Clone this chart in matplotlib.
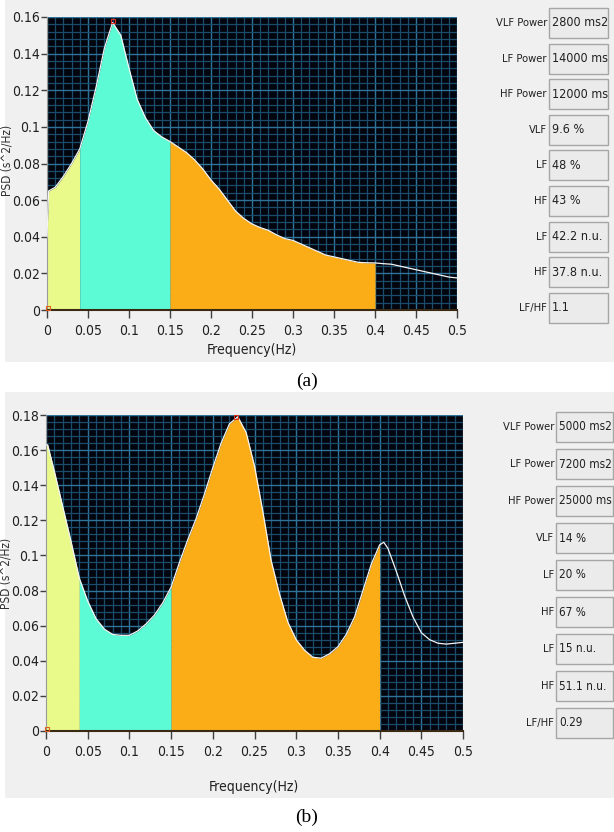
import numpy as np
import matplotlib.pyplot as plt
from matplotlib.patches import Rectangle
from matplotlib import font_manager

W, H = 614, 832

# PSD curve, panel (a)
freq_a = [0, 0.002, 0.01, 0.02, 0.03, 0.04, 0.05, 0.06, 0.07, 0.08, 0.09, 0.10,
          0.11, 0.12, 0.13, 0.14, 0.15, 0.16, 0.17, 0.18, 0.19, 0.20, 0.21, 0.22,
          0.23, 0.24, 0.25, 0.26, 0.27, 0.28, 0.29, 0.30, 0.31, 0.32, 0.33, 0.34,
          0.35, 0.36, 0.37, 0.38, 0.39, 0.40, 0.41, 0.42, 0.43, 0.44, 0.45, 0.46,
          0.47, 0.48, 0.49, 0.50]
psd_a = [0.040, 0.065, 0.067, 0.073, 0.080, 0.088, 0.103, 0.122, 0.143, 0.157, 0.150, 0.132,
         0.115, 0.105, 0.098, 0.0945, 0.092, 0.089, 0.086, 0.082, 0.077, 0.071, 0.066, 0.060,
         0.054, 0.050, 0.047, 0.045, 0.0435, 0.041, 0.039, 0.038, 0.036, 0.034, 0.032, 0.030,
         0.029, 0.028, 0.027, 0.026, 0.0258, 0.0257, 0.0253, 0.025, 0.024, 0.023, 0.022, 0.021,
         0.020, 0.019, 0.018, 0.0175]

# PSD curve, panel (b)
freq_b = [0, 0.002, 0.01, 0.02, 0.03, 0.04, 0.05, 0.06, 0.07, 0.08, 0.09, 0.10,
          0.11, 0.12, 0.13, 0.14, 0.15, 0.16, 0.17, 0.18, 0.19, 0.20, 0.21, 0.22,
          0.23, 0.24, 0.25, 0.26, 0.27, 0.28, 0.29, 0.30, 0.31, 0.32, 0.33, 0.34,
          0.35, 0.36, 0.37, 0.38, 0.39, 0.40, 0.405, 0.41, 0.42, 0.43, 0.44, 0.45,
          0.46, 0.47, 0.48, 0.49, 0.50]
psd_b = [0.163, 0.163, 0.148, 0.128, 0.108, 0.087, 0.074, 0.064, 0.058, 0.055, 0.0545, 0.0545,
         0.057, 0.061, 0.066, 0.073, 0.082, 0.096, 0.109, 0.121, 0.135, 0.150, 0.164, 0.175,
         0.179, 0.170, 0.151, 0.125, 0.097, 0.078, 0.062, 0.052, 0.046, 0.042, 0.0415, 0.044,
         0.048, 0.055, 0.065, 0.080, 0.095, 0.106, 0.1075, 0.104, 0.091, 0.077, 0.065, 0.056,
         0.052, 0.050, 0.0495, 0.050, 0.0505]

band_edges = [0, 0.04, 0.15, 0.4]
band_colors = ['#e9fa8a', '#5cfbd6', '#fbad17']

xticks = [0, 0.05, 0.1, 0.15, 0.2, 0.25, 0.3, 0.35, 0.4, 0.45, 0.5]
xtick_labels = ['0', '0.05', '0.1', '0.15', '0.2', '0.25', '0.3', '0.35', '0.4', '0.45', '0.5']
yticks_a = [0, 0.02, 0.04, 0.06, 0.08, 0.1, 0.12, 0.14, 0.16]
ytick_labels_a = ['0', '0.02', '0.04', '0.06', '0.08', '0.1', '0.12', '0.14', '0.16']
yticks_b = [0, 0.02, 0.04, 0.06, 0.08, 0.1, 0.12, 0.14, 0.16, 0.18]
ytick_labels_b = ['0', '0.02', '0.04', '0.06', '0.08', '0.1', '0.12', '0.14', '0.16', '0.18']

row_labels = ['VLF Power', 'LF Power', 'HF Power', 'VLF', 'LF', 'HF', 'LF', 'HF', 'LF/HF']
values_a = ['2800 ms2', '14000 ms', '12000 ms', '9.6 %', '48 %', '43 %', '42.2 n.u.', '37.8 n.u.', '1.1']
values_b = ['5000 ms2', '7200 ms2', '25000 ms', '14 %', '20 %', '67 %', '15 n.u.', '51.1 n.u.', '0.29']

# narrow upright face for the LabVIEW-like text
names = {f.name for f in font_manager.fontManager.ttflist}
condensed = [f.fname for f in font_manager.fontManager.ttflist
             if f.fname.endswith('DejaVuSansCondensed.ttf')]
if 'Liberation Sans Narrow' in names:
    NARROW = dict(family=['Liberation Sans Narrow', 'DejaVu Sans'])
elif condensed:
    NARROW = dict(fontproperties=font_manager.FontProperties(fname=condensed[0]))
else:
    NARROW = dict(family=['DejaVu Sans'])
SERIF = ['Liberation Serif', 'DejaVu Serif']


def ntext(size):
    d = dict(NARROW)
    if 'fontproperties' in d:
        fp = d['fontproperties'].copy()
        fp.set_size(size)
        d['fontproperties'] = fp
    else:
        d['fontsize'] = size
    return d


fig = plt.figure(figsize=(W / 100, H / 100), dpi=100)
fig.patch.set_facecolor('white')


def fx(px):
    return px / W


def fy(py):
    return 1 - py / H


def panel(top, bottom):
    fig.patches.append(Rectangle((fx(5), fy(bottom)), fx(W - 5), (bottom - top) / H,
                                 transform=fig.transFigure, facecolor='#f0f0f0',
                                 edgecolor='none', zorder=-10))


def draw_psd(rect, f, p, ymax, yticks, ylabels, peak):
    l, t, r, b = rect
    ax = fig.add_axes([fx(l), fy(b), (r - l) / W, (b - t) / H])
    ax.set_zorder(2)
    ax.set_facecolor('#02050d')
    f = np.array(f)
    p = np.array(p)
    for lo, hi, c in zip(band_edges[:-1], band_edges[1:], band_colors):
        m = (f >= lo) & (f <= hi)
        ax.fill_between(f[m], 0, p[m], color=c, lw=0, zorder=2)
    ax.plot(f, p, color='#f4f4f4', lw=0.9, zorder=3)
    ax.plot([peak[0]], [peak[1]], 's', ms=3, mfc='none', mec='#e03020', mew=0.8, zorder=4,
            clip_on=False)
    ax.plot([0.001], [0.001], 's', ms=3, mfc='none', mec='#e06020', mew=0.8, zorder=4,
            clip_on=False)
    ax.set_xlim(0, 0.5)
    ax.set_ylim(0, ymax)
    ax.set_xticks(xticks)
    ax.set_xticklabels(xtick_labels, color='#202020', **ntext(10))
    ax.set_yticks(yticks)
    ax.set_yticklabels(ylabels, color='#202020', **ntext(10))
    ax.set_xticks(np.arange(0, 0.5001, 0.01), minor=True)
    ax.set_yticks(np.arange(0, ymax + 1e-6, 0.004), minor=True)
    ax.grid(which='minor', color='#1b4c6c', lw=0.9)
    ax.grid(which='major', color='#2f7398', lw=1.0)
    ax.set_axisbelow(True)
    ax.tick_params(which='minor', length=0)
    ax.tick_params(axis='x', which='major', length=6, width=1, color='#404040', pad=4)
    ax.tick_params(axis='y', which='major', length=4, width=1, color='#404040', pad=1)
    for s in ['top', 'right']:
        ax.spines[s].set_visible(False)
    ax.spines['left'].set_color('#9a9a9a')
    ax.spines['bottom'].set_color('#3a2a14')
    ax.spines['bottom'].set_linewidth(1.5)
    return ax


def draw_readouts(y0, step, box_l, box_r, values, vsize):
    for i, (lab, val) in enumerate(zip(row_labels, values)):
        yc = y0 + i * step
        fig.patches.append(Rectangle((fx(box_l), fy(yc + 15)), (box_r - box_l) / W, 30 / H,
                                     transform=fig.transFigure, facecolor='#ebebeb',
                                     edgecolor='#a6a6a6', lw=1, zorder=1))
        fig.text(fx(box_l - 2), fy(yc), lab, ha='right', va='center',
                 color='#202020', **ntext(8))
        fig.text(fx(box_l + 3), fy(yc), val, ha='left', va='center',
                 color='#202020', **ntext(vsize))


# panel (a)
panel(0, 362)
draw_psd((47, 17, 457, 310), freq_a, psd_a, 0.16, yticks_a, ytick_labels_a, (0.08, 0.158))
fig.text(fx(7), fy(160), 'PSD (s^2/Hz)', rotation=90, ha='center', va='center',
         color='#303030', **ntext(8.5))
fig.text(fx(252), fy(350), 'Frequency(Hz)', ha='center', va='center',
         color='#202020', **ntext(10))
draw_readouts(23, 35.6, 549, 608, values_a, 9)
fig.text(fx(307), fy(381), '(a)', ha='center', va='center', family=SERIF, fontsize=14)

# panel (b)
panel(392, 798)
draw_psd((46, 415, 463, 731), freq_b, psd_b, 0.18, yticks_b, ytick_labels_b, (0.228, 0.179))
fig.text(fx(6), fy(573), 'PSD (s^2/Hz)', rotation=90, ha='center', va='center',
         color='#303030', **ntext(8.5))
fig.text(fx(254), fy(787), 'Frequency(Hz)', ha='center', va='center',
         color='#202020', **ntext(10))
draw_readouts(427, 37, 556, 613, values_b, 8.5)
fig.text(fx(307), fy(817), '(b)', ha='center', va='center', family=SERIF, fontsize=14)

fig.savefig('out.png', dpi=100, facecolor=fig.get_facecolor())
